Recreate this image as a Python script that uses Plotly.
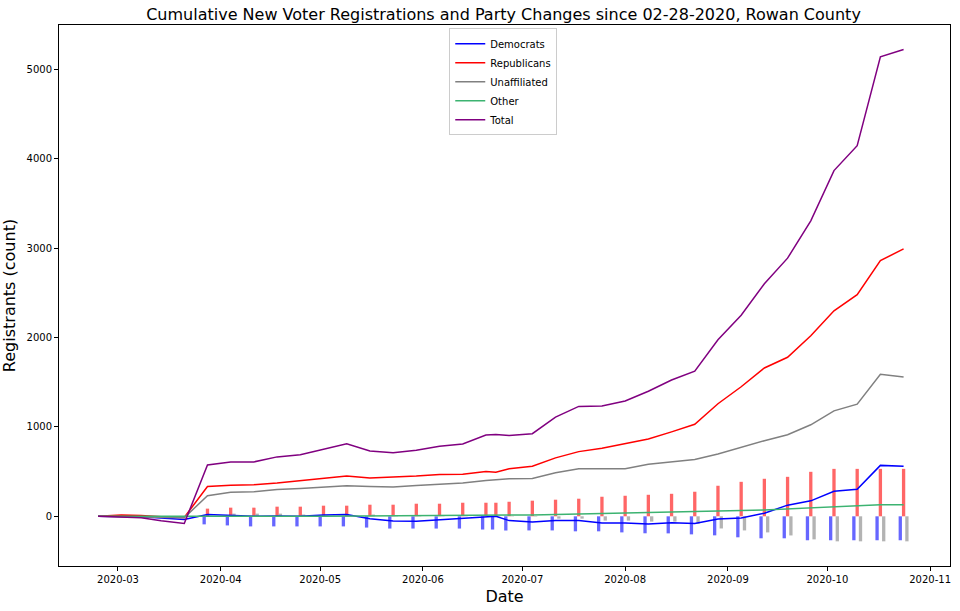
import plotly.graph_objects as go

# ---- data ----
dates = ["2020-02-24", "2020-03-02", "2020-03-08", "2020-03-14", "2020-03-21",
         "2020-03-28", "2020-04-04", "2020-04-11", "2020-04-18", "2020-04-25",
         "2020-05-02", "2020-05-09", "2020-05-16", "2020-05-23", "2020-05-30",
         "2020-06-06", "2020-06-13", "2020-06-20", "2020-06-23", "2020-06-27",
         "2020-07-04", "2020-07-11", "2020-07-18", "2020-07-25", "2020-08-01",
         "2020-08-08", "2020-08-15", "2020-08-22", "2020-08-29", "2020-09-05",
         "2020-09-12", "2020-09-19", "2020-09-26", "2020-10-03", "2020-10-10",
         "2020-10-17", "2020-10-24"]

democrats = [0, 0, -5, -20, -35, 19, 11, 0, 4, 0, 15, 19, -26, -52, -55, -40, -26,
             -3, 0, -48, -63, -48, -48, -74, -74, -85, -72, -81, -31, -18, 35, 125,
             173, 281, 303, 570, 559]
republicans = [0, 15, 10, -5, -12, 334, 349, 353, 372, 398, 431, 450, 429, 438, 450,
               468, 472, 501, 494, 531, 561, 654, 724, 762, 813, 865, 945, 1030, 1260,
               1450, 1660, 1780, 2020, 2300, 2480, 2862, 2992]
unaffiliated = [0, -5, -8, -12, -15, 230, 268, 275, 301, 312, 323, 342, 334, 327, 345,
                356, 372, 401, 409, 420, 423, 487, 531, 531, 531, 583, 612, 635, 698,
                773, 846, 913, 1024, 1180, 1255, 1590, 1560]
other = [0, 0, -3, -5, -8, 0, 0, 0, 0, 0, 2, 3, 3, 4, 5, 7, 8, 10, 11, 12, 15, 20, 25,
         30, 35, 42, 45, 48, 58, 65, 72, 85, 97, 108, 122, 130, 130]
total = [0, -5, -15, -50, -80, 575, 609, 609, 665, 690, 750, 813, 731, 710, 740, 785,
         810, 910, 915, 905, 925, 1110, 1230, 1235, 1290, 1400, 1525, 1625, 1975, 2250,
         2602, 2889, 3307, 3869, 4147, 5141, 5223]

bar_dates = dates[5:]
dem_changes = [-90, -102, -113, -113, -113, -113, -113, -126, -137, -137, -137, -137,
               -148, -148, -159, -158, -158, -168, -168, -180, -190, -191, -202, -213,
               -235, -246, -246, -268, -268, -268, -268, -268]
rep_changes = [86, 97, 97, 108, 108, 119, 119, 130, 130, 141, 141, 152, 152, 152, 163,
               175, 186, 197, 219, 230, 241, 252, 275, 342, 386, 420, 442, 498, 531,
               531, 531, 531]
unaff_changes = [0, 30, 30, 30, 20, 10, 10, 20, 5, 5, 15, 5, 5, 5, 5, -5, -26, -26,
                 -48, -48, -59, -59, -85, -136, -158, -180, -214, -258, -280, -280,
                 -280, -280]

DAY = 86400000
FONT = "DejaVu Sans"

fig = go.Figure()

for vals, color, off in [(dem_changes, "rgba(0,0,255,0.6)", -1.5),
                         (rep_changes, "rgba(255,0,0,0.6)", -0.5),
                         (unaff_changes, "rgba(128,128,128,0.6)", 0.5)]:
    fig.add_bar(x=bar_dates, y=vals, width=DAY, offset=off * DAY,
                marker=dict(color=color, line=dict(width=0)), showlegend=False)

for name, vals, color in [("Democrats", democrats, "#0000ff"),
                          ("Republicans", republicans, "#ff0000"),
                          ("Unaffiliated", unaffiliated, "#808080"),
                          ("Other", other, "#3cb371"),
                          ("Total", total, "#800080")]:
    fig.add_scatter(x=dates, y=vals, mode="lines", name=name,
                    line=dict(color=color, width=1.5))

axis_common = dict(showline=True, mirror=True, linecolor="black", linewidth=1,
                   ticks="outside", ticklen=4, tickcolor="black", showgrid=False,
                   zeroline=False, tickfont=dict(family=FONT, size=10, color="black"))

fig.update_layout(
    width=960, height=611,
    margin=dict(l=58, r=9, t=25, b=43),
    paper_bgcolor="white", plot_bgcolor="white",
    barmode="overlay",
    font=dict(family=FONT, color="black"),
    title=dict(text="Cumulative New Voter Registrations and Party Changes since 02-28-2020, Rowan County",
               x=0.5245, xanchor="center", yref="container", y=1 - 14 / 611, yanchor="middle",
               font=dict(family=FONT, size=16, color="black")),
    legend=dict(x=0.4986, xanchor="center", y=0.994, yanchor="top",
                bordercolor="#cccccc", borderwidth=1, bgcolor="rgba(255,255,255,0.8)",
                font=dict(family=FONT, size=10, color="black"), tracegroupgap=0),
    xaxis=dict(type="date", range=["2020-02-12 05:00", "2020-11-07"],
               tickformat="%Y-%m", dtick="M1", tick0="2020-03-01",
               title=dict(text="Date", font=dict(family=FONT, size=16), standoff=6),
               **axis_common),
    yaxis=dict(range=[-556, 5498], dtick=1000, tick0=0, tickformat="d",
               title=dict(text="Registrants (count)", font=dict(family=FONT, size=16), standoff=6),
               **axis_common),
)

fig.write_html("out.html")
